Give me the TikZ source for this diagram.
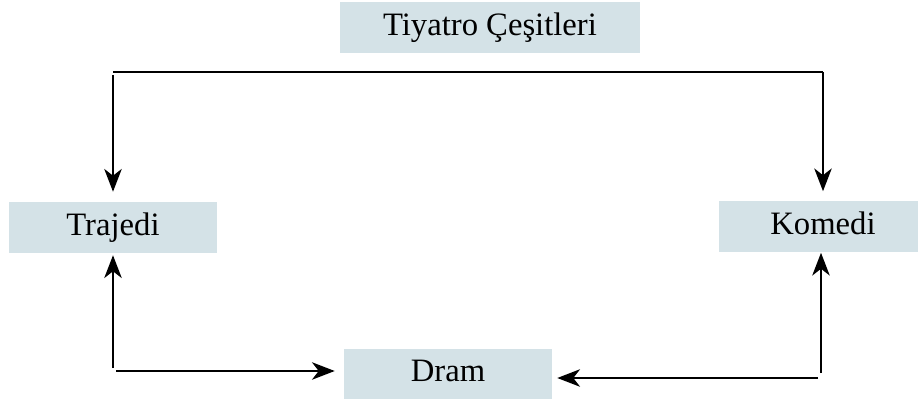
\documentclass[tikz,border=0pt]{standalone}
\usepackage{fontspec}
\setmainfont{Liberation Serif}
\usetikzlibrary{arrows.meta}
\definecolor{boxfill}{RGB}{212,226,231}
\begin{document}
\begin{tikzpicture}[x=0.75pt,y=-0.75pt,
  box/.style={fill=boxfill,draw=none,inner sep=0pt,minimum height=51*0.75pt,
    text height=16.5pt,text depth=5pt,font=\fontsize{24.5}{29}\selectfont},
  conn/.style={line width=2.2pt},
  arr/.style={conn,-{Stealth[length=17pt,width=13pt,inset=5pt]}}]
\useasboundingbox (0,0) rectangle (918,399);
\node[box,minimum width=300*0.75pt] (title) at (490,27.5) {Tiyatro Çeşitleri};
\node[box,minimum width=208*0.75pt] (trajedi) at (113,227.5) {Trajedi};
\node[box,minimum width=208*0.75pt] (komedi) at (823,227) {Komedi};
\node[box,minimum width=208*0.75pt] (dram) at (448,374) {Dram};
% top bar
\coordinate (tl) at (113,72);
\coordinate (tr) at (823,72);
\draw[conn] (tl) -- (tr);
\draw[arr] ([yshift=-3*0.75pt]tl) -- ([yshift=10*0.75pt]trajedi.north);
\draw[arr] (tr) -- ([yshift=10*0.75pt]komedi.north);
% bottom left
\coordinate (bl) at (113,368);
\coordinate (blh) at (116,371);
\draw[arr] (bl) -- ([yshift=-2*0.75pt]trajedi.south);
\draw[arr] (blh) -- ([xshift=-9*0.75pt]dram.west |- blh);
% bottom right
\coordinate (br) at (821,373);
\coordinate (brh) at (818,378);
\draw[arr] (br) -- (komedi.south -| br);
\draw[arr] (brh) -- ([xshift=5*0.75pt]dram.east |- brh);
\end{tikzpicture}
\end{document}
